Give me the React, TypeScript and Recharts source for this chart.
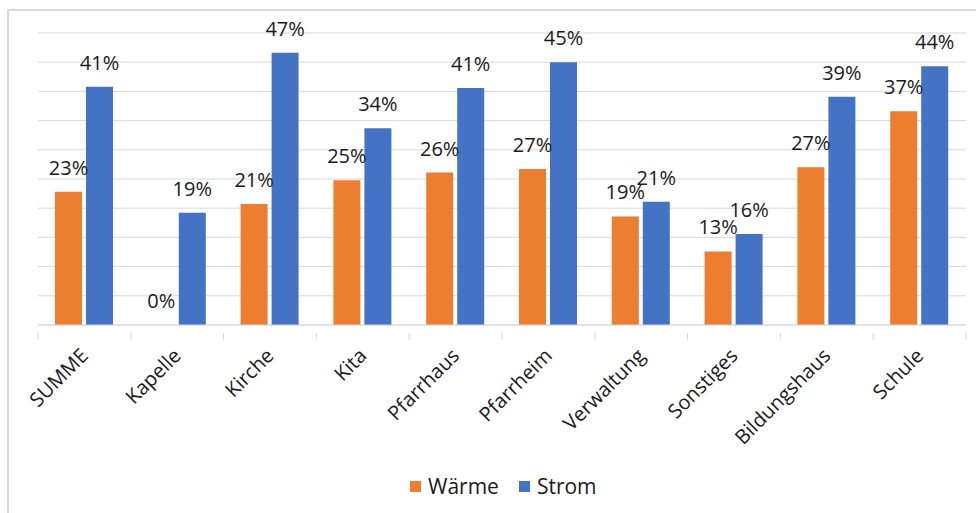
import React from "react";
import {
  BarChart,
  Bar,
  XAxis,
  YAxis,
  CartesianGrid,
  LabelList,
} from "recharts";

const categories = [
  "SUMME",
  "Kapelle",
  "Kirche",
  "Kita",
  "Pfarrhaus",
  "Pfarrheim",
  "Verwaltung",
  "Sonstiges",
  "Bildungshaus",
  "Schule",
];
const waerme = [22.8, 0, 20.7, 24.8, 26.1, 26.7, 18.6, 12.6, 27.0, 36.6];
const strom = [40.8, 19.2, 46.6, 33.7, 40.6, 45.0, 21.1, 15.6, 39.1, 44.3];
const yTicks = [0, 5, 10, 15, 20, 25, 30, 35, 40, 45, 50];

const ORANGE = "#ED7D31";
const BLUE = "#4472C4";
const GRID = "#d9d9d9";
const TEXT = "#1a1a1a";
const FONT = "'Open Sans', sans-serif";

const W = 976;
const H = 513;
const M = { top: 33, right: 10, bottom: 0, left: 38 };
const band = (W - M.left - M.right) / categories.length;

const data = categories.map((c, i) => ({
  name: c,
  waerme: waerme[i],
  strom: strom[i],
}));

const fmt = (v: any) => `${Math.round(Number(v))}%`;

// zero values still need their "0%" label, so give them a hairline bar
const tinyForZero = (v: any) => (Number(v) === 0 ? 0.01 : 0);

const CatTick = (props: any) => {
  const { x, y, payload, index } = props;
  const ax = x + 5;
  const ay = y + 24;
  return (
    <g>
      <line x1={x - band / 2} y1={y} x2={x - band / 2} y2={y + 7} stroke={GRID} />
      {index === categories.length - 1 && (
        <line x1={x + band / 2} y1={y} x2={x + band / 2} y2={y + 7} stroke={GRID} />
      )}
      <text
        x={ax}
        y={ay}
        textAnchor="end"
        transform={`rotate(-45, ${ax}, ${ay})`}
        fontFamily={FONT}
        fontSize={20}
        fill={TEXT}
      >
        {payload.value}
      </text>
    </g>
  );
};

const LegendItem = ({ color, label }: { color: string; label: string }) => (
  <div style={{ display: "flex", alignItems: "center", marginRight: 20 }}>
    <div style={{ width: 11, height: 11, background: color, marginRight: 7 }} />
    <span>{label}</span>
  </div>
);

export default function App() {
  return (
    <div style={{ position: "relative", width: W, height: H, overflow: "hidden", background: "#fff" }}>
      <style>{`body{margin:0;overflow:hidden}`}</style>
      <div
        style={{
          position: "absolute",
          left: 7,
          top: 9,
          width: W,
          height: H,
          borderLeft: `2px solid ${GRID}`,
          borderTop: `2px solid ${GRID}`,
        }}
      />
      <div style={{ position: "absolute", left: 0, top: 0 }}>
        <BarChart
          width={W}
          height={H}
          data={data}
          margin={M}
          barSize={27}
          barGap={4}
        >
          <CartesianGrid vertical={false} stroke={GRID} />
          <YAxis hide domain={[0, 50]} ticks={yTicks} />
          <XAxis
            dataKey="name"
            height={188}
            interval={0}
            stroke={GRID}
            tickLine={false}
            tick={<CatTick />}
          />
          <Bar
            dataKey="waerme"
            fill={ORANGE}
            minPointSize={tinyForZero}
            isAnimationActive={false}
          >
            <LabelList
              dataKey="waerme"
              position="top"
              offset={17}
              formatter={fmt}
              style={{ fontFamily: FONT, fontSize: 20, fill: TEXT }}
            />
          </Bar>
          <Bar dataKey="strom" fill={BLUE} isAnimationActive={false}>
            <LabelList
              dataKey="strom"
              position="top"
              offset={17}
              formatter={fmt}
              style={{ fontFamily: FONT, fontSize: 20, fill: TEXT }}
            />
          </Bar>
        </BarChart>
      </div>
      <div
        style={{
          position: "absolute",
          left: 410,
          top: 472,
          display: "flex",
          fontFamily: FONT,
          fontSize: 21,
          color: TEXT,
        }}
      >
        <LegendItem color={ORANGE} label="Wärme" />
        <LegendItem color={BLUE} label="Strom" />
      </div>
    </div>
  );
}
